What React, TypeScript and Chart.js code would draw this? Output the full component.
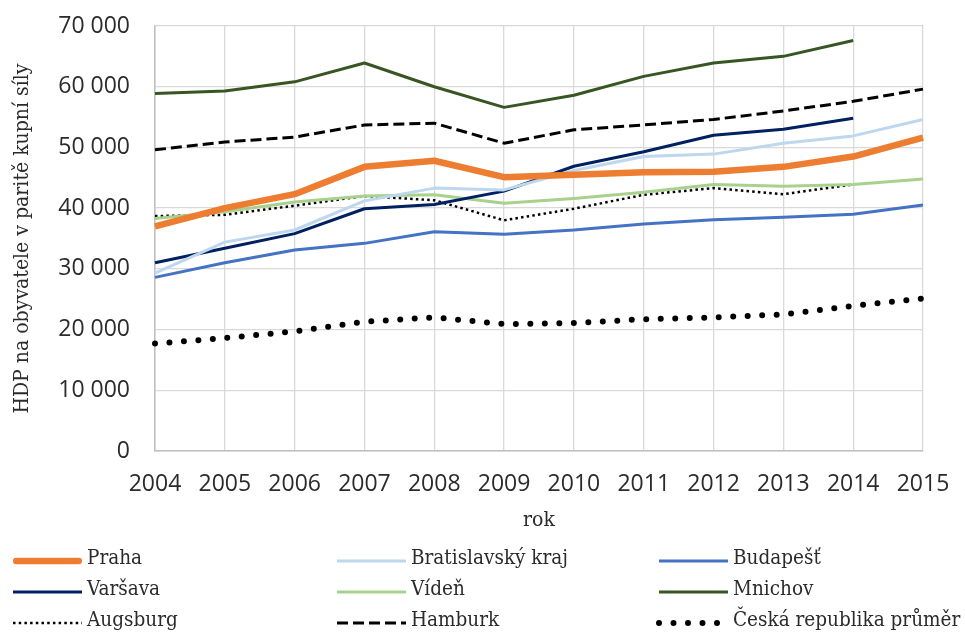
import React, { useEffect, useRef } from "react";
import { Chart, registerables } from "chart.js";

Chart.register(...registerables);

const years = ["2004", "2005", "2006", "2007", "2008", "2009", "2010", "2011", "2012", "2013", "2014", "2015"];

const praha = [37000, 40000, 42300, 46800, 47800, 45100, 45500, 45900, 46000, 46800, 48500, 51600];
const bratislava = [29300, 34400, 36400, 41200, 43300, 43000, 46200, 48500, 48900, 50700, 51900, 54600];
const budapest = [28600, 31000, 33100, 34200, 36100, 35700, 36400, 37400, 38100, 38500, 39000, 40500];
const varsava = [31000, 33400, 35800, 39900, 40600, 42800, 46900, 49300, 52000, 53000, 54800, null];
const viden = [38300, 39400, 41000, 42000, 42200, 40800, 41600, 42600, 43900, 43600, 43900, 44800];
const mnichov = [58900, 59300, 60800, 63900, 60000, 56600, 58600, 61700, 63900, 65000, 67600, null];
const augsburg = [38700, 38900, 40400, 42000, 41300, 38000, 39900, 42200, 43300, 42300, 43900, null];
const hamburk = [49600, 50900, 51700, 53700, 54000, 50700, 52900, 53700, 54600, 56000, 57600, 59600];
const crPrumer = [17700, 18600, 19700, 21300, 22000, 20900, 21100, 21700, 22000, 22500, 23900, 25100];

const seriesNames = [
  "Praha",
  "Bratislavský kraj",
  "Budapešť",
  "Varšava",
  "Vídeň",
  "Mnichov",
  "Augsburg",
  "Hamburk",
  "Česká republika průměr",
];

const FONT = "'DejaVu Serif Condensed', 'DejaVu Serif', serif";
const NUMFONT = "'Open Sans', 'Noto Sans', sans-serif";
const TEXT = "#2b2b2b";

const fmt = (v: number) => {
  const s = String(Math.round(v));
  return s.replace(/\B(?=(\d{3})+(?!\d))/g, " ");
};

const legendPlugin = {
  id: "gridLegend",
  afterDraw(chart: any) {
    const ctx = chart.ctx;
    const colX = [13, 337, 659];
    const rowY = [561, 592, 623];
    const lineLen = 69;
    chart.data.datasets.forEach((ds: any, i: number) => {
      const col = i % 3;
      const row = Math.floor(i / 3);
      const x = colX[col];
      const y = rowY[row];
      ctx.save();
      ctx.strokeStyle = ds.borderColor;
      ctx.lineWidth = ds.borderWidth;
      const cap = ds.borderCapStyle || (i === 0 ? "round" : "butt");
      ctx.lineCap = cap;
      ctx.setLineDash(ds.borderDash || []);
      ctx.beginPath();
      const inset = cap === "round" && !ds.borderDash ? ds.borderWidth / 2 : 0;
      ctx.moveTo(x + inset, y);
      ctx.lineTo(x + lineLen - inset, y);
      ctx.stroke();
      ctx.restore();
      ctx.save();
      ctx.fillStyle = TEXT;
      ctx.font = `20.5px ${FONT}`;
      ctx.textBaseline = "middle";
      ctx.textAlign = "left";
      ctx.fillText(ds.label, x + lineLen + 5, y - 2);
      ctx.restore();
    });
  },
};

export default function App() {
  const ref = useRef<HTMLCanvasElement | null>(null);

  useEffect(() => {
    if (!ref.current) return;
    const mk = (i: number, data: (number | null)[], color: string, width: number, extra: any = {}) => ({
      label: seriesNames[i],
      data,
      borderColor: color,
      backgroundColor: color,
      borderWidth: width,
      pointRadius: 0,
      pointHoverRadius: 0,
      tension: 0,
      fill: false,
      spanGaps: false,
      borderJoinStyle: "round",
      ...extra,
    });
    const datasets = [
      mk(0, praha, "#ED7D31", 6.5),
      mk(1, bratislava, "#BDD7EE", 3),
      mk(2, budapest, "#4472C4", 3),
      mk(3, varsava, "#002060", 3),
      mk(4, viden, "#A9D18E", 3),
      mk(5, mnichov, "#375623", 3),
      mk(6, augsburg, "#000000", 2.5, { borderDash: [2.5, 3.2] }),
      mk(7, hamburk, "#000000", 3, { borderDash: [11, 5] }),
      mk(8, crPrumer, "#000000", 6, { borderDash: [0, 14.5], borderCapStyle: "round" }),
    ];
    const chart = new Chart(ref.current, {
      type: "line",
      data: { labels: years, datasets: datasets as any },
      plugins: [legendPlugin],
      options: {
        animation: false,
        responsive: false,
        maintainAspectRatio: false,
        layout: { padding: { top: 26, right: 42, bottom: 100, left: 0 } },
        plugins: {
          legend: { display: false },
          tooltip: { enabled: false },
        },
        scales: {
          x: {
            type: "category",
            offset: false,
            grid: { color: "#D9D9D9", lineWidth: 1.3, drawTicks: false, offset: false },
            border: { color: "#BFBFBF", width: 1.5 },
            ticks: { color: TEXT, font: { family: NUMFONT, size: 23 }, padding: 20, maxRotation: 0, autoSkip: false },
            title: {
              display: true,
              text: "rok",
              color: TEXT,
              font: { family: FONT, size: 21 },
              padding: { top: 0, bottom: 2 },
            },
            afterFit: (s: any) => {
              s.height = 84;
              s.paddingLeft = 0;
              s.paddingRight = 0;
            },
          },
          y: {
            min: 0,
            max: 70000,
            grid: { color: "#D9D9D9", lineWidth: 1.3, drawTicks: false },
            border: { color: "#BFBFBF", width: 1.5 },
            ticks: {
              stepSize: 10000,
              color: TEXT,
              font: { family: NUMFONT, size: 23 },
              padding: 25,
              callback: (v: any) => fmt(Number(v)),
            },
            title: {
              display: true,
              text: "HDP na obyvatele v paritě kupní síly",
              color: TEXT,
              font: { family: FONT, size: 21 },
              padding: { top: 10, bottom: 0 },
            },
            afterFit: (s: any) => {
              s.width = 155;
              s.paddingTop = 0;
              s.paddingBottom = 0;
            },
          },
        },
      },
    });
    return () => chart.destroy();
  }, []);

  return (
    <div style={{ position: "fixed", left: 0, top: 0, width: 965, height: 635, background: "#fff" }}>
      <canvas ref={ref} width={965} height={635} style={{ width: 965, height: 635 }} />
    </div>
  );
}
